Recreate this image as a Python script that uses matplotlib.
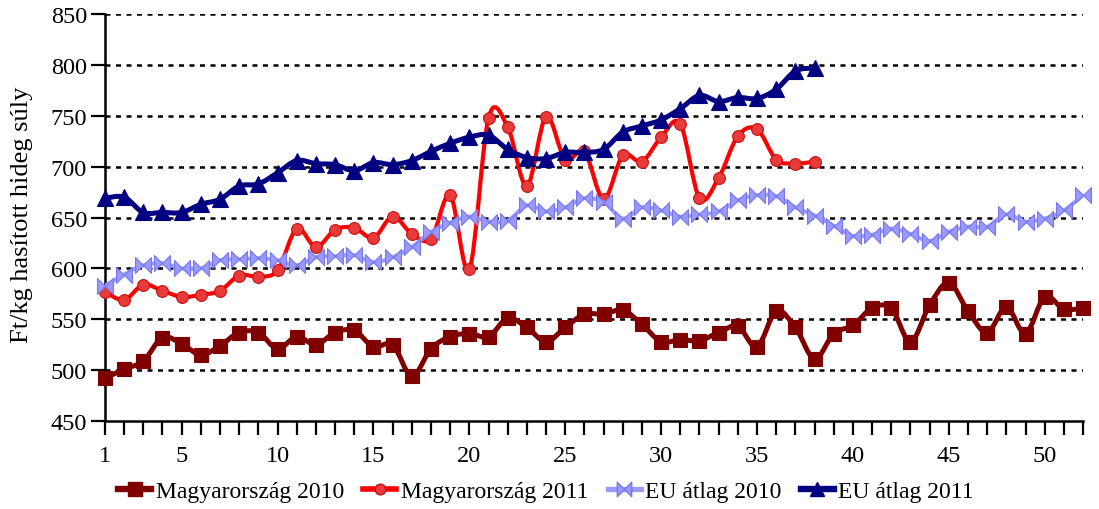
import matplotlib
matplotlib.use("Agg")
import matplotlib.pyplot as plt
from matplotlib.path import Path
from matplotlib.patches import PathPatch
from matplotlib.lines import Line2D

weeks = list(range(1, 53))
weeks_2011 = list(range(1, 39))

hu_2010 = [492, 501, 509, 532, 526, 515, 524, 537, 537, 521,
           533, 525, 537, 539, 523, 525, 494, 521, 533, 536,
           533, 551, 542, 528, 542, 555, 555, 559, 545, 528,
           530, 529, 537, 543, 523, 558, 542, 511, 536, 544,
           561, 561, 528, 564, 586, 558, 537, 562, 536, 572,
           560, 561]

hu_2011 = [577, 569, 584, 578, 572, 574, 578, 593, 592, 598,
           639, 621, 638, 640, 630, 651, 634, 629, 672, 599,
           748, 739, 681, 749, 707, 715, 668, 711, 705, 729,
           742, 669, 689, 730, 737, 707, 703, 705]

eu_2010 = [583, 594, 603, 605, 600, 600, 608, 609, 610, 608,
           603, 611, 612, 613, 606, 611, 621, 636, 645, 651,
           646, 647, 662, 656, 660, 669, 665, 649, 660, 657,
           651, 653, 656, 667, 672, 671, 660, 652, 642, 632,
           633, 639, 634, 627, 636, 641, 641, 653, 646, 649,
           657, 672]

eu_2011 = [669, 670, 655, 655, 655, 663, 668, 681, 683, 694,
           706, 703, 702, 696, 704, 702, 706, 715, 723, 729,
           731, 717, 709, 708, 714, 714, 717, 734, 740, 746,
           757, 770, 764, 768, 767, 776, 794, 797]

labels = ["Magyarország 2010", "Magyarország 2011", "EU átlag 2010", "EU átlag 2011"]

plt.rcParams['font.family'] = ['Liberation Serif', 'DejaVu Serif']


def smooth_path(x, y):
    # Catmull-Rom style bezier, like Excel's smoothed line
    n = len(x)
    verts = [(x[0], y[0])]
    codes = [Path.MOVETO]
    for i in range(n - 1):
        xp, yp = (x[i - 1], y[i - 1]) if i > 0 else (x[i], y[i])
        xn, yn = (x[i + 2], y[i + 2]) if i + 2 < n else (x[i + 1], y[i + 1])
        c1 = (x[i] + (x[i + 1] - xp) / 6, y[i] + (y[i + 1] - yp) / 6)
        c2 = (x[i + 1] - (xn - x[i]) / 6, y[i + 1] - (yn - y[i]) / 6)
        verts += [c1, c2, (x[i + 1], y[i + 1])]
        codes += [Path.CURVE4] * 3
    return Path(verts, codes)


bowtie = Path([(-1, -1), (0, 0), (-1, 1), (-1, -1),
               (1, -1), (0, 0), (1, 1), (1, -1)],
              [Path.MOVETO, Path.LINETO, Path.LINETO, Path.CLOSEPOLY,
               Path.MOVETO, Path.LINETO, Path.LINETO, Path.CLOSEPOLY])

series = [
    (weeks, hu_2010, dict(color='#800000', lw=3.6, marker='s', ms=10.5,
                          mfc='#800000', mec='#800000')),
    (weeks_2011, hu_2011, dict(color='#ff0000', lw=3.0, marker='o', ms=8.5,
                               mfc='#e83a3a', mec='#c81010')),
    (weeks, eu_2010, dict(color='#9999ff', lw=2.8, marker=bowtie, ms=11.5,
                          mfc='#9999ff', mec='#7777ee')),
    (weeks_2011, eu_2011, dict(color='#000080', lw=3.6, marker='^', ms=11,
                               mfc='#000080', mec='#000080')),
]

fig = plt.figure(figsize=(10.99, 5.10), dpi=100)
ax = fig.add_axes([0.0955, 0.1725, 0.89, 0.798])

handles = []
for z, (x, y, st) in enumerate(series):
    patch = PathPatch(smooth_path(x, y), facecolor='none', edgecolor=st['color'],
                      lw=st['lw'], zorder=3 + 2 * z, capstyle='round', joinstyle='round')
    ax.add_patch(patch)
    ax.plot(x, y, ls='none', marker=st['marker'], ms=st['ms'], mfc=st['mfc'],
            mec=st['mec'], mew=0.8, zorder=4 + 2 * z, clip_on=False)
    handles.append(Line2D([], [], color=st['color'], lw=st['lw'] + 1, marker=st['marker'],
                          ms=st['ms'] * 0.9, mfc=st['mfc'], mec=st['mec']))

ax.set_xlim(1, 52)
ax.set_ylim(450, 850)
ax.set_yticks(range(450, 851, 50))
ax.set_xticks(weeks)
ax.set_xticklabels([str(w) if (w == 1 or w % 5 == 0) else '' for w in weeks])

for y in range(500, 851, 50):
    ax.axhline(y, color='black', lw=1.8, ls=(0, (2, 2.2)), zorder=1)

for s in ['top', 'right']:
    ax.spines[s].set_visible(False)
for s in ['left', 'bottom']:
    ax.spines[s].set_linewidth(1.8)
ax.tick_params(axis='both', direction='out', length=10, width=1.6, labelsize=17.5, pad=3)
ax.tick_params(axis='x', pad=7)

ax.set_ylabel("Ft/kg hasított hideg súly", fontsize=19)
ax.yaxis.set_label_coords(-0.074, 0.51)

fig.legend(handles, labels, loc='center', bbox_to_anchor=(0.497, 0.035), ncol=4,
           frameon=False, fontsize=17, handlelength=1.4, handletextpad=0.2,
           columnspacing=0.8)

fig.savefig("out.png", dpi=100)
